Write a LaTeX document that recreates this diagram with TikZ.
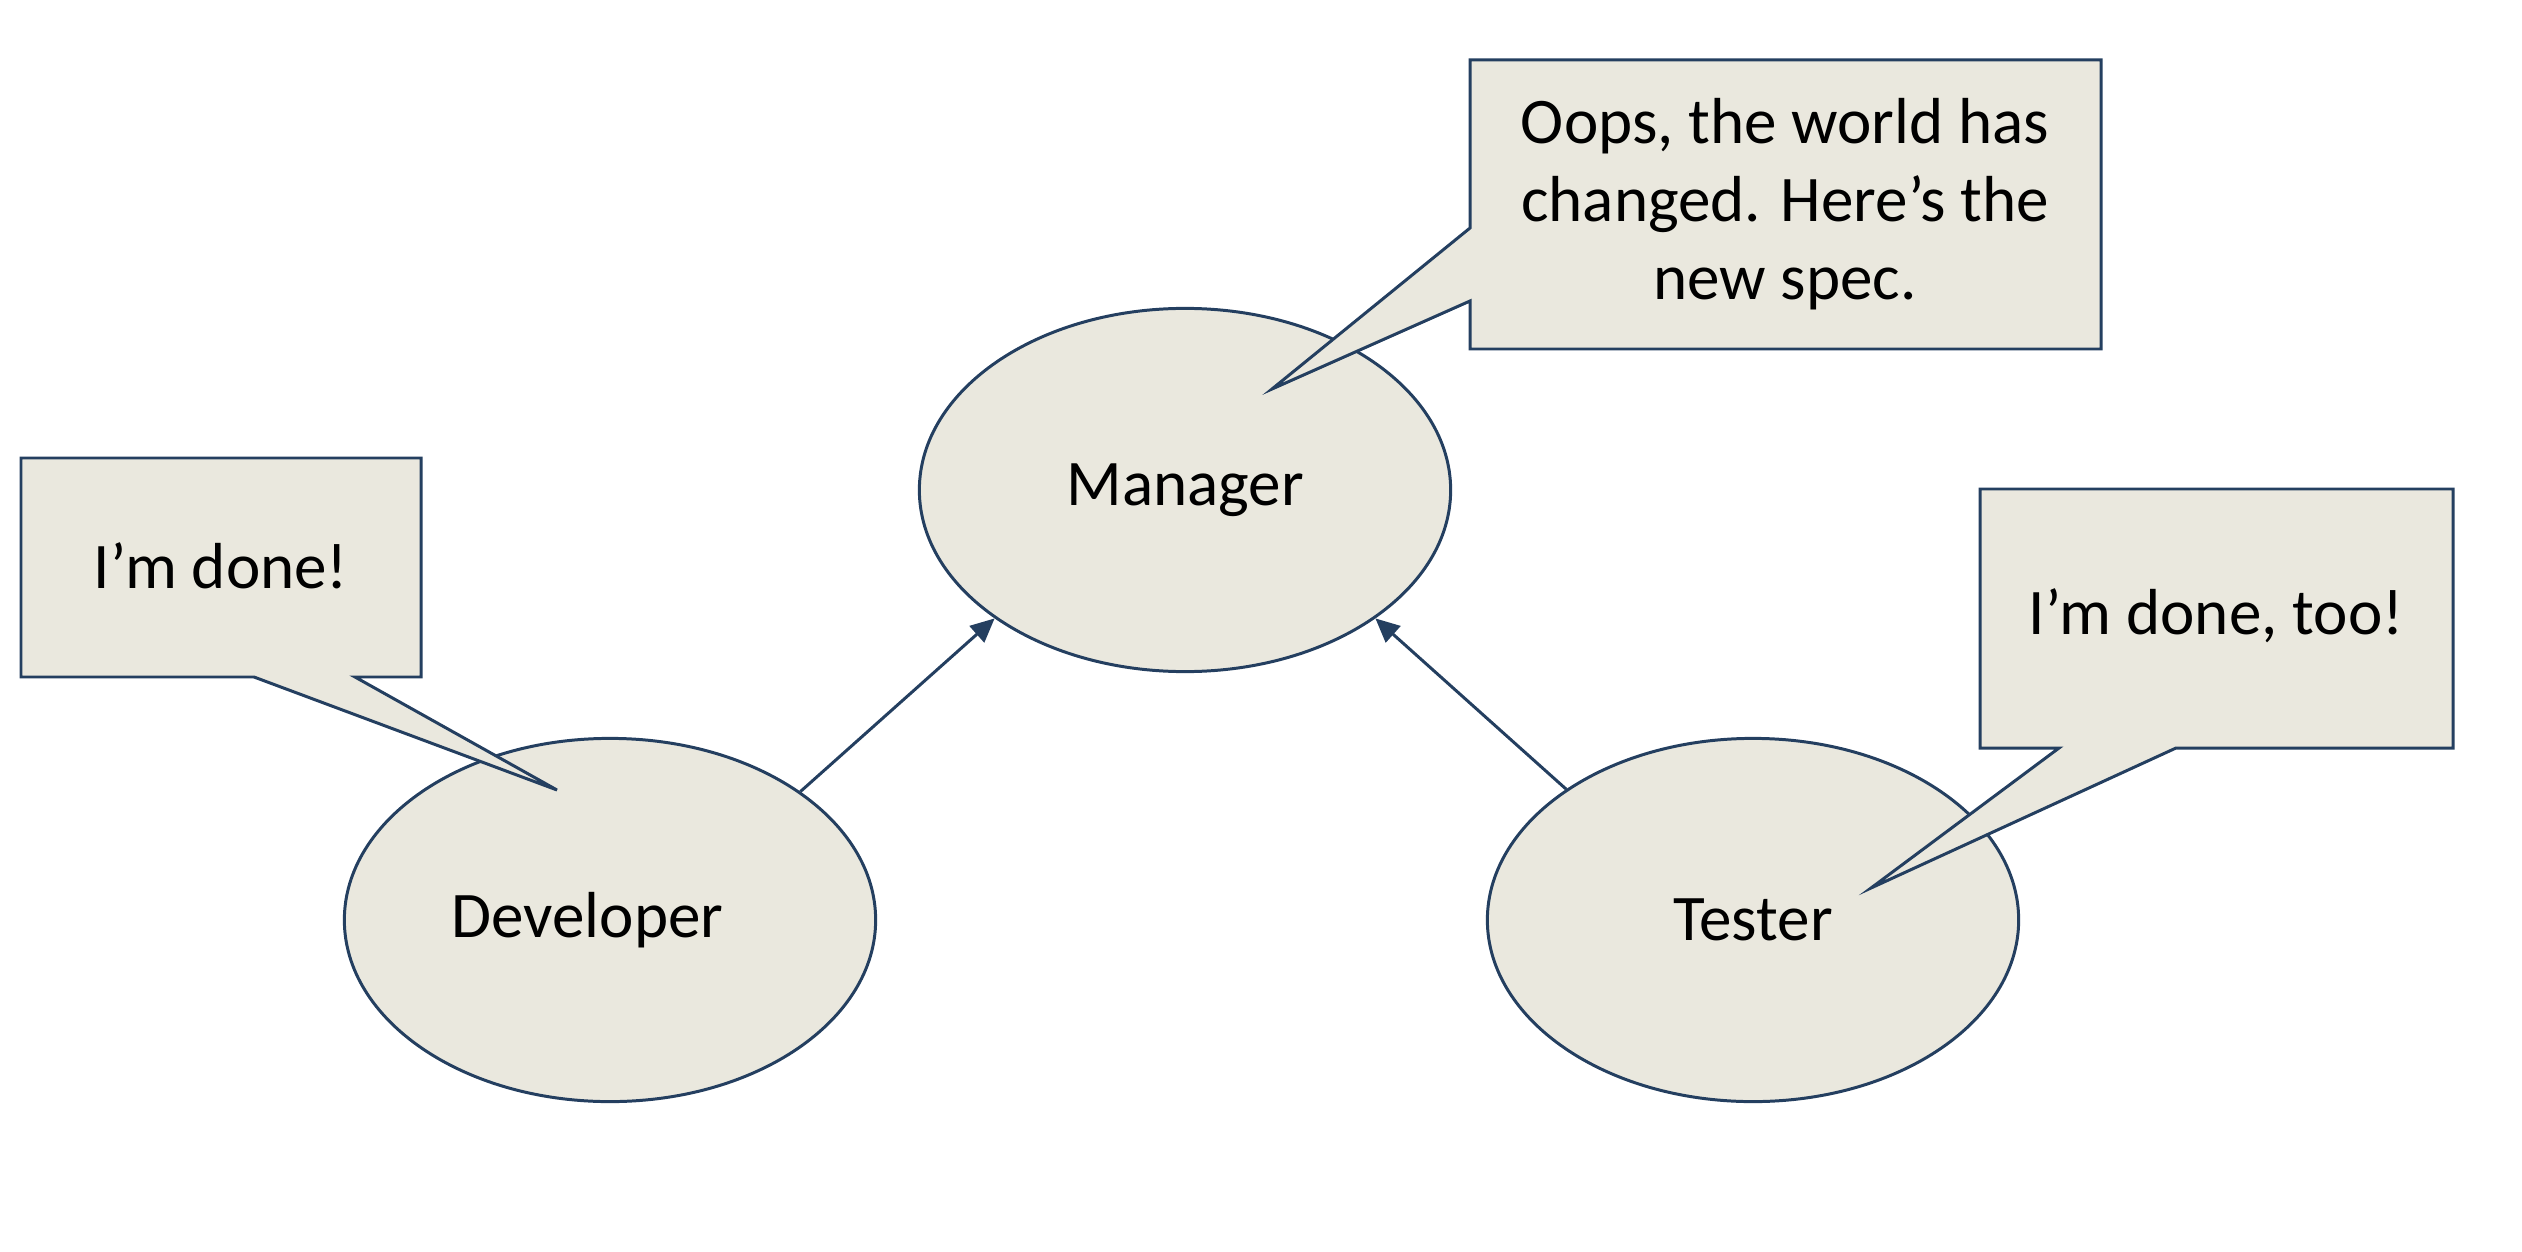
\documentclass[tikz,border=0pt]{standalone}
\usepackage{fontspec}
\setmainfont{Carlito}
\usetikzlibrary{shapes.geometric,arrows.meta}
\definecolor{fillc}{RGB}{234,232,222}
\definecolor{linec}{RGB}{36,63,96}
\tikzset{
  ell/.style={ellipse,draw=linec,fill=fillc,line width=0.85pt,minimum width=5.31cm,minimum height=3.63cm,inner sep=0pt,font=\fontsize{18.5}{22.2}\selectfont},
  callout/.style={draw=linec,fill=fillc,line width=0.85pt,line join=miter},
  ctext/.style={align=center,inner sep=0pt,font=\fontsize{18.5}{22.2}\selectfont},
  link/.style={draw=linec,line width=0.85pt,-{Triangle[length=6.8pt,width=6.2pt]}}
}
\begin{document}
\begin{tikzpicture}[x=0.01cm,y=-0.01cm]
\useasboundingbox (0,0) rectangle (2522,1252);
% ellipses
\node[ell] (man) at (1185,490) {Manager};
\node[ell] (dev) at (610,920) {Developer\hspace*{0.45cm}};
\node[ell] (tst) at (1753,920) {Tester};
% connectors
\draw[link] (dev.34.7) -- (man.214.5);
\draw[link] (tst.145.6) -- (man.326.1);
% callout: manager
\coordinate (mtip) at (1272,389);
\draw[callout] (1470,60) -- (2101,60) -- (2101,349) -- (1470,349) -- (1470,301) -- (mtip) -- (1470,228) -- cycle;
\node[ctext] (mtext) at (1785,204) {Oops, the world has\\changed. Here’s the\\new spec.};
% callout: developer
\coordinate (dtip) at (557,790);
\draw[callout] (21,458) -- (421,458) -- (421,677) -- (355,677) -- (dtip) -- (254,677) -- (21,677) -- cycle;
\node[ctext] (dtext) at (221,566) {I’m done!};
% callout: tester
\coordinate (ttip) at (1871,888);
\draw[callout] (1980,489) -- (2453,489) -- (2453,748) -- (2176,748) -- (ttip) -- (2059,748) -- (1980,748) -- cycle;
\node[ctext] (ttext) at (2216,616) {I’m done, too!};
\end{tikzpicture}
\end{document}
